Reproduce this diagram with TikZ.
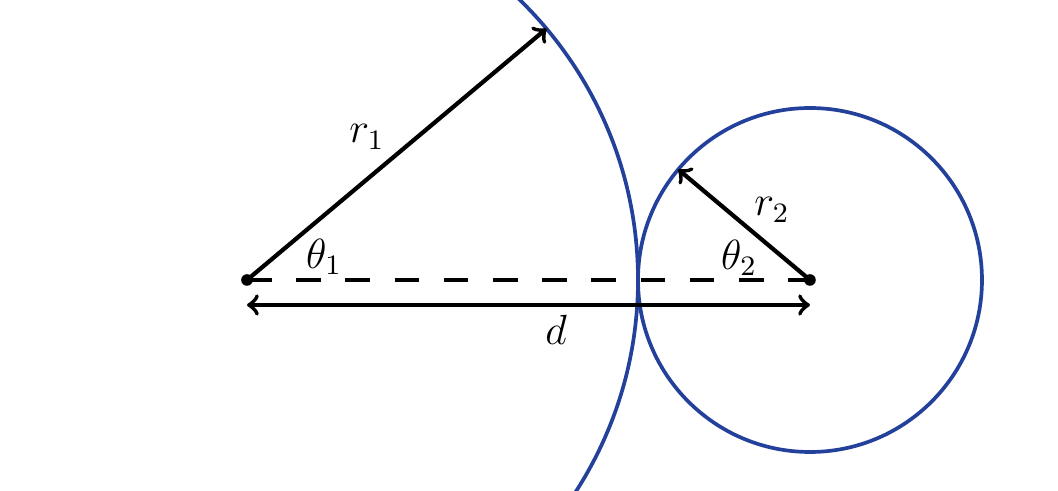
\documentclass[tikz,border=0pt]{standalone}
\usetikzlibrary{calc}
\definecolor{ringblue}{RGB}{35,64,155}
\begin{document}
\begin{tikzpicture}
        \tikzstyle{ring}=[draw=ringblue, line width=1.05pt]
        \tikzstyle{vec}=[->, line width=1.2pt]
        \tikzstyle{lab}=[font=\large, inner sep=1pt]
        \useasboundingbox (-2.47,-2.11) rectangle (8.11,2.80);
        \clip (-2.47,-2.11) rectangle (8.11,2.80);
        \coordinate (c1) at (0,0);
        \coordinate (c2) at (5.63,0);
        \draw[ring] (c1) circle (3.91);
        \draw[ring] (c2) circle (1.72);
        \coordinate (p1) at ($(c1)+(40:3.91)$);
        \coordinate (p2) at ($(c2)+(140:1.72)$);
        \coordinate (d1) at ($(c1)+(0,-0.25)$);
        \coordinate (d2) at ($(c2)+(0,-0.25)$);
        \draw[vec] (c1) -- (p1);
        \draw[vec] (c2) -- (p2);
        \draw[line width=1.2pt, dash pattern=on 7pt off 7pt] (c1) -- (c2);
        \draw[vec, <->] (d1) -- (d2);
        \fill (c1) circle (0.058);
        \fill (c2) circle (0.058);
        \node[lab] (r1) at (1.20,1.43) {$r_1$};
        \node[lab] (r2) at (5.25,0.70) {$r_2$};
        \node[lab] (t1) at (0.77,0.23) {$\theta_1$};
        \node[lab] (t2) at (4.92,0.22) {$\theta_2$};
        \node[lab] (d) at (3.09,-0.50) {$d$};
\end{tikzpicture}
\end{document}
